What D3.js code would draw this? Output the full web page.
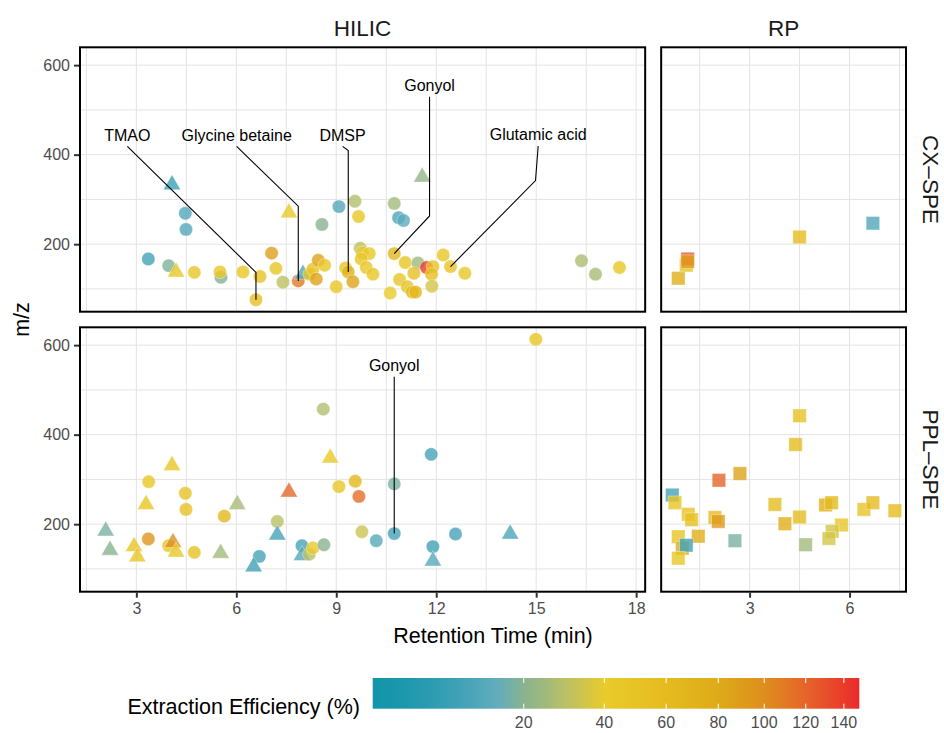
<!DOCTYPE html>
<html><head><meta charset="utf-8">
<script src="https://cdn.jsdelivr.net/npm/d3@7"></script>
<style>body{margin:0;background:#fff} text{font-family:"Liberation Sans",Arial,Helvetica,sans-serif}</style>
</head><body><svg id="c" width="944" height="733"></svg>
<script>
// ---------------- data ----------------
const columns = ["HILIC", "RP"];
const rows = ["CX–SPE", "PPL–SPE"];
const xTicksHilic = [3, 6, 9, 12, 15, 18];
const xTicksRp = [3, 6];
const yTicks = [200, 400, 600];
const legendTicks = [20, 40, 60, 80, 100, 120, 140];
const legendTitle = "Extraction Efficiency (%)";
const xTitle = "Retention Time (min)";
const yTitle = "m/z";

// [retention time, m/z, extraction efficiency, shape]  c=circle t=triangle s=square
const cxHilic = [
  [4.07,333,8,"t"],[4.47,269,12,"c"],[4.49,233,12,"c"],[3.36,167,9,"c"],[3.97,152,19,"c"],
  [4.19,138,45,"t"],[4.74,137,45,"c"],[5.54,126,19,"c"],[5.51,138,45,"c"],[6.2,138,45,"c"],
  [6.71,128,50,"c"],[6.59,76,55,"c"],[7.06,180,90,"c"],[7.19,146,48,"c"],[7.4,115,30,"c"],
  [7.58,270,42,"t"],[7.86,118,110,"c"],[8.0,133,12,"t"],[8.57,244,20,"c"],[8.2,133,48,"c"],
  [8.3,144,50,"c"],[8.46,164,85,"c"],[8.65,153,45,"c"],[8.4,122,85,"c"],[9.08,284,12,"c"],
  [9.56,296,28,"c"],[9.67,262,45,"c"],[9.0,105,45,"c"],[9.28,147,48,"c"],[9.36,138,70,"c"],
  [9.5,116,85,"c"],[9.72,191,30,"c"],[9.78,181,40,"c"],[9.99,179,45,"c"],[9.75,167,48,"c"],
  [9.9,148,45,"c"],[10.1,133,45,"c"],[11.58,350,22,"t"],[10.74,291,25,"c"],[10.87,259,11,"c"],
  [11.02,253,14,"c"],[10.74,179,68,"c"],[11.07,159,48,"c"],[11.45,158,24,"c"],[11.71,148,140,"c"],
  [11.9,150,50,"c"],[11.86,133,55,"c"],[12.21,176,45,"c"],[12.43,150,50,"c"],[12.86,135,45,"c"],
  [10.9,121,48,"c"],[11.33,135,55,"c"],[11.13,105,50,"c"],[11.28,93,65,"c"],[11.38,93,65,"c"],
  [10.62,91,40,"c"],[11.87,106,35,"c"],[16.36,163,27,"c"],[16.78,133,26,"c"],[17.5,148,45,"c"]
];
const pplHilic = [
  [2.08,185,18,"t"],[2.21,142,20,"t"],[2.93,150,48,"t"],[3.03,127,45,"t"],[3.36,167,95,"c"],
  [3.29,244,45,"t"],[3.37,295,45,"c"],[4.07,331,45,"t"],[3.97,152,48,"c"],[4.1,159,100,"t"],
  [4.19,138,45,"t"],[4.47,269,50,"c"],[4.49,233,52,"c"],[4.74,137,52,"c"],[5.53,135,25,"t"],
  [5.64,218,65,"c"],[6.03,244,26,"t"],[6.69,128,10,"c"],[6.52,105,9,"t"],[7.23,206,30,"c"],
  [7.23,176,10,"t"],[7.58,272,118,"t"],[7.97,152,10,"c"],[7.97,130,13,"t"],[8.19,133,30,"c"],
  [8.3,147,42,"c"],[8.63,154,20,"c"],[8.61,457,28,"c"],[8.82,348,42,"t"],[9.08,284,45,"c"],
  [9.57,296,65,"c"],[9.68,262,115,"c"],[9.77,183,33,"c"],[10.2,163,13,"c"],[14.99,613,45,"c"],
  [10.74,290,18,"c"],[11.85,356,10,"c"],[10.74,179,10,"c"],[11.9,150,9,"c"],[11.9,118,13,"t"],
  [12.58,178,10,"c"],[14.22,178,11,"t"]
];
const cxRp = [
  [6.7,247,12,"s"],[4.5,216,60,"s"],[0.86,124,75,"s"],[1.1,153,48,"s"],[1.14,167,125,"s"],[1.14,161,90,"s"]
];
const pplRp = [
  [4.5,442,52,"s"],[4.38,378,58,"s"],[2.71,313,85,"s"],[2.08,298,120,"s"],[0.68,265,10,"s"],
  [0.76,248,48,"s"],[1.16,222,50,"s"],[1.26,210,52,"s"],[1.96,215,60,"s"],[2.06,206,92,"s"],
  [0.86,172,48,"s"],[1.46,173,75,"s"],[0.98,146,75,"s"],[1.1,153,9,"s"],[0.86,124,45,"s"],
  [2.56,163,18,"s"],[3.76,244,58,"s"],[4.06,201,75,"s"],[4.5,216,58,"s"],[4.68,154,25,"s"],
  [5.28,243,72,"s"],[5.46,248,62,"s"],[5.76,198,45,"s"],[5.48,184,35,"s"],[5.38,168,35,"s"],
  [6.43,233,50,"s"],[6.7,248,60,"s"],[7.36,230,60,"s"]
];

// annotations (HILIC column): name, row index, label position, elbow, target (data units)
const labelNames = ["TMAO", "Glycine betaine", "DMSP", "Gonyol", "Glutamic acid", "Gonyol"];
const labelRows = [0, 0, 0, 0, 0, 1];
const labelAt = [[2.73,443],[6.01,443],[9.19,443],[11.8,554],[15.06,444],[10.74,554]];
const labelElbow = [[6.59,137],[7.86,285],[9.36,409],[11.8,263],[14.98,342],[10.74,179]];
const labelTarget = [[6.59,76],[7.86,118],[9.36,138],[10.74,179],[12.43,150],[10.74,179]];

// colour scale stops (extraction efficiency)
const effStops = [1, 10, 15, 20, 30, 40, 60, 80, 100, 120, 148.5];
const effColors = ["#1195aa","#47a3b8","#62adbd","#89b38f","#bcc164","#e9cb2a","#e5bb1f","#ddab18","#de8e1d","#e6642a","#eb2a2a"];

// ---------------- drawing ----------------
const svg = d3.select("#c");
svg.append("rect").attr("width", 944).attr("height", 733).attr("fill", "#fff");

const color = d3.scaleLinear().domain(effStops).range(effColors).interpolate(d3.interpolateRgb).clamp(true);

function padded(vals) {
  const [a, b] = d3.extent(vals); const p = (b - a) * 0.05; return [a - p, b + p];
}
const hilicDom = padded(cxHilic.concat(pplHilic).map(d => d[0]));
const rpDom = padded(cxRp.concat(pplRp).map(d => d[0]));
const yDom = padded(cxHilic.concat(pplHilic, cxRp, pplRp).map(d => d[1]));

const left = 80, right = 906, gap = 16;
const avail = right - left - gap;
const wH = avail * (hilicDom[1] - hilicDom[0]) / ((hilicDom[1] - hilicDom[0]) + (rpDom[1] - rpDom[0]));
const xH = d3.scaleLinear().domain(hilicDom).range([left, left + wH]);
const xR = d3.scaleLinear().domain(rpDom).range([left + wH + gap, right]);
const rowTop = [47.3, 327.3], rowH = 264.4;
const yS = rowTop.map(t => d3.scaleLinear().domain(yDom).range([t + rowH, t]));

const panelData = [[cxHilic, cxRp], [pplHilic, pplRp]];
const xScales = [xH, xR];
const xTicksAll = [xTicksHilic, xTicksRp];

const shapeMap = {c: d3.symbolCircle, t: d3.symbolTriangle, s: d3.symbolSquare};
const sizeMap = {c: 140, t: 130, s: 182};

rows.forEach((rname, ri) => {
  columns.forEach((cname, ci) => {
    const x = xScales[ci], y = yS[ri];
    const [x0, x1] = x.range(), [y1, y0] = y.range();
    const g = svg.append("g");
    const clipId = `clip${ri}${ci}`;
    svg.append("clipPath").attr("id", clipId).append("rect")
      .attr("x", x0).attr("y", y0).attr("width", x1 - x0).attr("height", y1 - y0);
    // grid
    const dom = x.domain();
    const gx = d3.range(Math.ceil(dom[0] / 1.5) * 1.5, dom[1], 1.5);
    g.selectAll(".gx").data(gx).join("line")
      .attr("x1", d => x(d)).attr("x2", d => x(d)).attr("y1", y0).attr("y2", y1)
      .attr("stroke", "#e3e3e3").attr("stroke-width", 1);
    const gy = d3.range(Math.ceil(yDom[0] / 100) * 100, yDom[1], 100);
    g.selectAll(".gy").data(gy).join("line")
      .attr("x1", x0).attr("x2", x1).attr("y1", d => y(d)).attr("y2", d => y(d))
      .attr("stroke", "#e3e3e3").attr("stroke-width", 1);
    // points
    const pg = g.append("g").attr("clip-path", `url(#${clipId})`);
    pg.selectAll("path").data(panelData[ri][ci]).join("path")
      .attr("transform", d => `translate(${x(d[0])},${y(d[1])})`)
      .attr("d", d => d3.symbol(shapeMap[d[3]], sizeMap[d[3]])())
      .attr("fill", d => color(d[2])).attr("fill-opacity", 0.8)
      .attr("stroke", "#fff").attr("stroke-opacity", 0.45).attr("stroke-width", 0.8);
    // annotations
    if (ci === 0) {
      labelNames.forEach((nm, i) => {
        if (labelRows[i] !== ri) return;
        const lx = x(labelAt[i][0]), ly = y(labelAt[i][1]);
        g.append("text").attr("x", lx).attr("y", ly).attr("text-anchor", "middle")
          .attr("dominant-baseline", "central").attr("font-size", 16).attr("fill", "#000").text(nm);
        const pts = [[lx, ly + 11], [x(labelElbow[i][0]), y(labelElbow[i][1])], [x(labelTarget[i][0]), y(labelTarget[i][1])]];
        g.append("path").attr("d", d3.line()(pts)).attr("fill", "none").attr("stroke", "#000").attr("stroke-width", 1.1);
      });
    }
    // border
    g.append("rect").attr("x", x0).attr("y", y0).attr("width", x1 - x0).attr("height", y1 - y0)
      .attr("fill", "none").attr("stroke", "#000").attr("stroke-width", 2);
    // y axis on left column
    if (ci === 0) {
      const ay = g.append("g").attr("transform", `translate(${x0 - 1},0)`)
        .call(d3.axisLeft(y).tickValues(yTicks).tickSize(5).tickPadding(4).tickFormat(d3.format("d")));
      ay.select(".domain").remove();
      ay.selectAll("line").attr("stroke", "#333").attr("stroke-width", 2);
      ay.selectAll("text").attr("font-size", 16).attr("fill", "#4d4d4d").attr("font-family", "Liberation Sans, Arial, sans-serif");
    }
    // x axis on bottom row
    if (ri === 1) {
      const ax = g.append("g").attr("transform", `translate(0,${y1 + 1})`)
        .call(d3.axisBottom(x).tickValues(xTicksAll[ci]).tickSize(5).tickPadding(5).tickFormat(d3.format("d")));
      ax.select(".domain").remove();
      ax.selectAll("line").attr("stroke", "#333").attr("stroke-width", 2);
      ax.selectAll("text").attr("font-size", 16).attr("fill", "#4d4d4d").attr("font-family", "Liberation Sans, Arial, sans-serif");
    }
    // strips
    if (ri === 0) {
      svg.append("text").attr("x", (x0 + x1) / 2).attr("y", 28).attr("text-anchor", "middle")
        .attr("dominant-baseline", "central").attr("font-size", 22.5).attr("fill", "#1a1a1a").text(cname);
    }
    if (ci === 1) {
      svg.append("text").attr("transform", `translate(930,${(y0 + y1) / 2}) rotate(90)`)
        .attr("text-anchor", "middle").attr("dominant-baseline", "central")
        .attr("font-size", 22.5).attr("fill", "#1a1a1a").text(rname);
    }
  });
});

// axis titles
svg.append("text").attr("x", (left + right) / 2).attr("y", 636).attr("text-anchor", "middle")
  .attr("dominant-baseline", "central").attr("font-size", 21.5).attr("fill", "#000").text(xTitle);
svg.append("text").attr("transform", `translate(22,${(rowTop[0] + rowTop[1] + rowH) / 2}) rotate(-90)`)
  .attr("text-anchor", "middle").attr("dominant-baseline", "central").attr("font-size", 21.5).attr("fill", "#000").text(yTitle);

// legend colour bar
const lx = d3.scaleSqrt().domain([effStops[0], effStops[effStops.length - 1]]).range([372.7, 859.3]);
const defs = svg.append("defs");
const grad = defs.append("linearGradient").attr("id", "lg").attr("x1", "0%").attr("x2", "100%").attr("y1", "0%").attr("y2", "0%");
d3.range(0, 1.0001, 0.01).forEach(f => {
  const v = lx.invert(372.7 + f * (859.3 - 372.7));
  grad.append("stop").attr("offset", (f * 100) + "%").attr("stop-color", color(v));
});
svg.append("rect").attr("x", 372.7).attr("y", 678).attr("width", 859.3 - 372.7).attr("height", 30.7).attr("fill", "url(#lg)");
const lt = svg.append("g");
legendTicks.forEach(t => {
  lt.append("line").attr("x1", lx(t)).attr("x2", lx(t)).attr("y1", 678).attr("y2", 683).attr("stroke", "#fff").attr("stroke-width", 1);
  lt.append("line").attr("x1", lx(t)).attr("x2", lx(t)).attr("y1", 703.7).attr("y2", 708.7).attr("stroke", "#fff").attr("stroke-width", 1);
  lt.append("text").attr("x", lx(t)).attr("y", 722).attr("text-anchor", "middle").attr("dominant-baseline", "central")
    .attr("font-size", 16).attr("fill", "#4d4d4d").text(t);
});
svg.append("text").attr("x", 360).attr("y", 707).attr("text-anchor", "end").attr("dominant-baseline", "central")
  .attr("font-size", 21.5).attr("fill", "#000").text(legendTitle);
</script></body></html>
